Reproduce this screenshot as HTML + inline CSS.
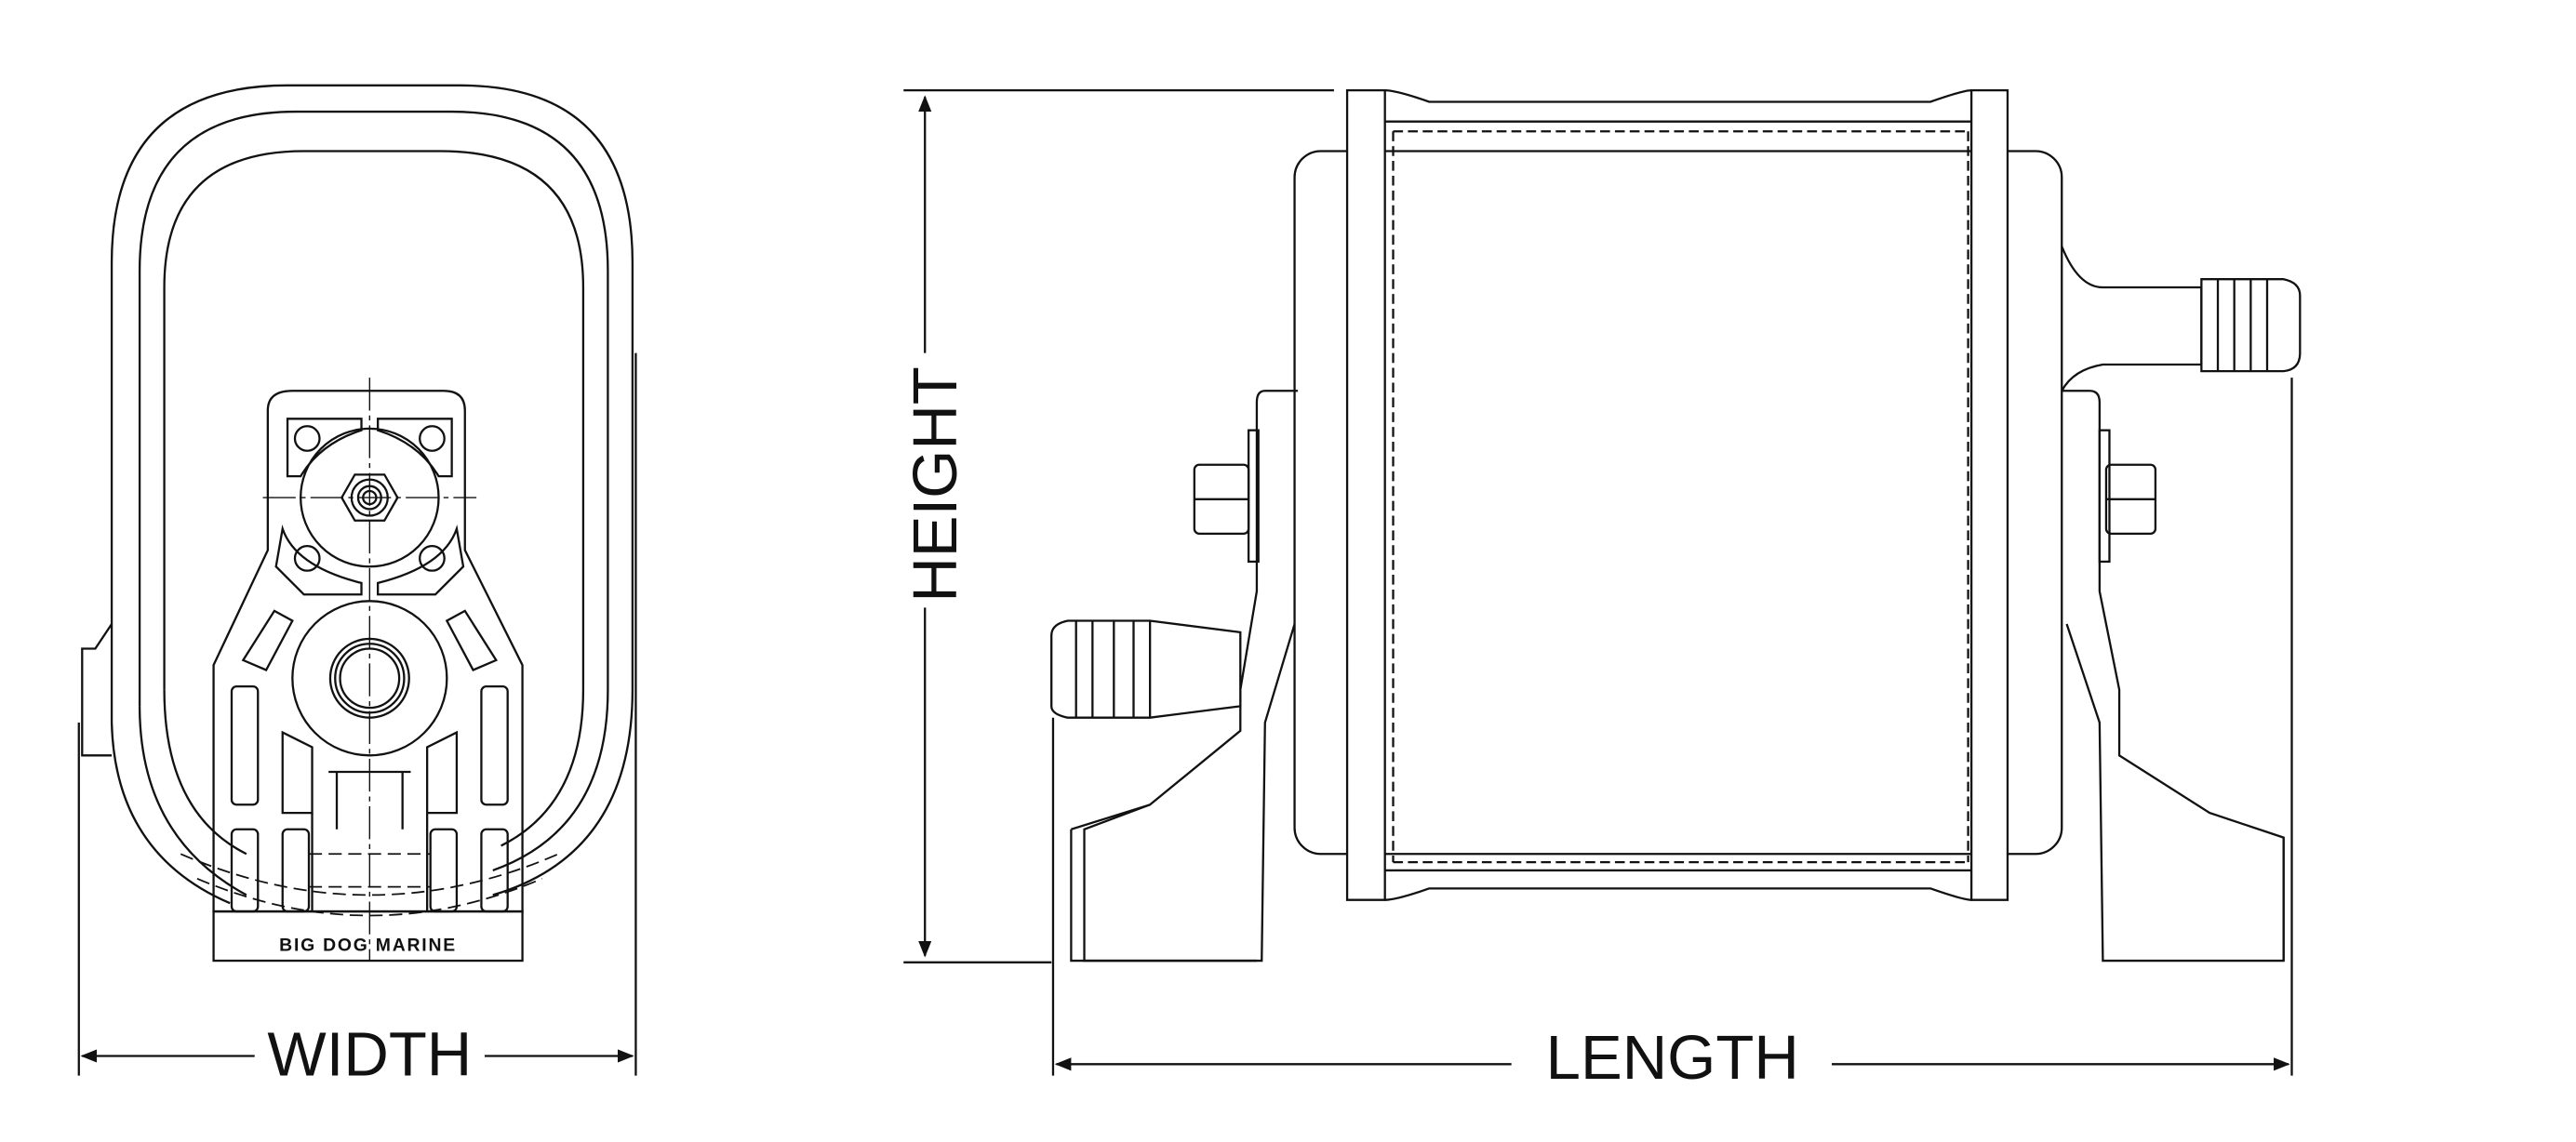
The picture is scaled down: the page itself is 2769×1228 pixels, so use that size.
<!DOCTYPE html>
<html><head><meta charset="utf-8"><style>
html,body{margin:0;padding:0;background:#fff;}
svg{display:block}
text{font-family:"Liberation Sans",sans-serif;fill:#111}
</style></head><body>
<svg width="2769" height="1228" viewBox="0 0 1568 695.4" preserveAspectRatio="none" xmlns="http://www.w3.org/2000/svg">
<defs>
<marker id="ar" markerWidth="10" markerHeight="8" refX="9" refY="4" orient="auto" markerUnits="userSpaceOnUse"><path d="M0,0 L10,4 L0,8 Z" fill="#111"/></marker>
</defs>
<g fill="none" stroke="#111" stroke-width="1.3">
<!-- LEFT VIEW: oval housing -->
<path d="M68,440 L68,160 Q68,52 175,52 L280,52 Q385,52 385,160 L385,420 Q385,520 300,545"/>
<path d="M85,430 L85,165 Q85,68 180,68 L275,68 Q370,68 370,165 L370,420 Q370,505 300,530"/>
<path d="M100,420 L100,175 Q100,92 185,92 L268,92 Q355,92 355,175 L355,420 Q355,490 305,515"/>
<path d="M85,430 Q85,510 150,545"/><path d="M100,420 Q100,495 150,520"/>
<path d="M68,440 Q70,520 140,550"/>
<path d="M68,380 L58,395 L50,395 L50,460 L68,460"/>
<!-- bracket -->
<path d="M163,250 Q163,238 178,238 L270,238 Q283,238 283,250 L283,335 L318,405 L318,555 L130,555 L130,405 L163,335 Z"/>
<rect x="130" y="555" width="188" height="30"/>
<circle cx="225" cy="303" r="42"/>
<polygon points="208,303 216,289 234,289 242,303 234,317 216,317"/>
<circle cx="225" cy="303" r="11"/><circle cx="225" cy="303" r="7"/><circle cx="225" cy="303" r="4"/>
<circle cx="187" cy="267" r="7.5"/><circle cx="263" cy="267" r="7.5"/>
<circle cx="187" cy="340" r="7.5"/><circle cx="263" cy="340" r="7.5"/>
<path d="M175,255 L220,255 L220,262 Q195,270 183,290 L175,290 Z"/>
<path d="M275,255 L230,255 L230,262 Q255,270 267,290 L275,290 Z"/>
<path d="M172,322 Q180,345 220,355 L220,362 L185,362 L168,345 Z"/>
<path d="M278,322 Q270,345 230,355 L230,362 L265,362 L282,345 Z"/>
<circle cx="225" cy="413" r="47"/>
<circle cx="225" cy="413" r="24"/><circle cx="225" cy="413" r="21"/><circle cx="225" cy="413" r="18"/>
<path d="M167,372 L178,378 L162,408 L148,402 Z"/><path d="M283,372 L272,378 L288,408 L302,402 Z"/>
<rect x="141" y="418" width="16" height="72" rx="3"/><rect x="293" y="418" width="16" height="72" rx="3"/>
<path d="M172,446 L190,455 L190,495 L172,495 Z"/><path d="M278,446 L260,455 L260,495 L278,495 Z"/>
<rect x="141" y="505" width="16" height="50" rx="3"/><rect x="293" y="505" width="16" height="50" rx="3"/>
<rect x="172" y="505" width="16" height="50" rx="3"/><rect x="262" y="505" width="16" height="50" rx="3"/>
<path d="M190,495 L190,555 M260,495 L260,555 M200,470 L250,470 M205,470 L205,505 M245,470 L245,505"/>
<path d="M225,230 L225,585 M160,303 L290,303" stroke-width="0.8" stroke-dasharray="20,3,3,3"/>
<path d="M110,520 Q225,570 340,520 M120,535 Q225,580 330,535 M188,520 L262,520 M188,540 L262,540" stroke-dasharray="8,4" stroke-width="1"/>
<!-- width dims -->
<path d="M48,440 L48,655 M387,215 L387,655"/>
<path d="M155,643 L50,643" marker-end="url(#ar)"/>
<path d="M295,643 L385,643" marker-end="url(#ar)"/>

<!-- RIGHT VIEW -->
<rect x="788" y="92" width="467" height="428" rx="16"/>
<path d="M820,55 L820,548 L843,548 L843,55 Z" fill="#fff"/>
<path d="M1200,55 L1200,548 L1222,548 L1222,55 Z" fill="#fff"/>
<path d="M843,55 Q850,55 870,62 L1175,62 Q1195,55 1200,55 M843,548 Q850,548 870,541 L1175,541 Q1195,548 1200,548"/>
<path d="M843,74 L1200,74 M843,530 L1200,530"/>
<path d="M848,80 L1198,80 M848,525 L1198,525 M848,80 L848,525 M1198,80 L1198,525" stroke-dasharray="6,3"/>
<!-- left bracket -->
<path d="M790,238 L770,238 Q765,238 765,245 L765,360 L755,420 L755,445 L700,490 L660,505 L660,585 L768,585 L770,440 L788,380"/>
<path d="M652,505 L652,585 L765,585 M652,505 L700,490"/>
<rect x="727" y="283" width="33" height="42" rx="3"/><path d="M727,304 L760,304"/>
<rect x="760" y="262" width="6" height="80"/>
<path d="M640,387 Q640,380 650,378 L700,378 L755,385 L755,430 L700,437 L650,437 Q640,435 640,430 Z" fill="#fff"/>
<path d="M655,378 L655,437 M665,378 L665,437 M678,378 L678,437 M690,378 L690,437 M700,378 L700,437"/>
<!-- right bracket -->
<path d="M1255,238 L1272,238 Q1278,238 1278,245 L1278,360 L1290,420 L1290,460 L1345,495 L1390,510 L1390,585 L1280,585 L1278,440 L1258,380"/>
<path d="M1390,510 L1390,585"/>
<rect x="1282" y="283" width="30" height="42" rx="3"/><path d="M1282,304 L1312,304"/>
<rect x="1278" y="262" width="6" height="80"/>
<path d="M1255,150 Q1265,175 1280,175 L1340,175 L1340,222 L1280,222 Q1262,225 1255,238"/>
<path d="M1340,170 L1390,170 Q1400,172 1400,180 L1400,215 Q1400,225 1390,226 L1340,226 Z" fill="#fff"/>
<path d="M1350,170 L1350,226 M1360,170 L1360,226 M1370,170 L1370,226 M1380,170 L1380,226"/>
<!-- height dims -->
<path d="M550,55 L812,55 M550,586 L640,586"/>
<path d="M563,215 L563,59" marker-end="url(#ar)"/>
<path d="M563,370 L563,582" marker-end="url(#ar)"/>
<!-- length dims -->
<path d="M641,437 L641,655 M1395,230 L1395,655"/>
<path d="M920,648 L643,648" marker-end="url(#ar)"/>
<path d="M1115,648 L1393,648" marker-end="url(#ar)"/>
</g>
<text x="225" y="655" font-size="38" text-anchor="middle">WIDTH</text>
<text x="1018" y="657" font-size="38" text-anchor="middle">LENGTH</text>
<text transform="translate(582,295) rotate(-90)" font-size="38" text-anchor="middle">HEIGHT</text>
<text x="224" y="579" font-size="11" font-weight="bold" text-anchor="middle" letter-spacing="1">BIG  DOG  MARINE</text>
</svg>
</body></html>
